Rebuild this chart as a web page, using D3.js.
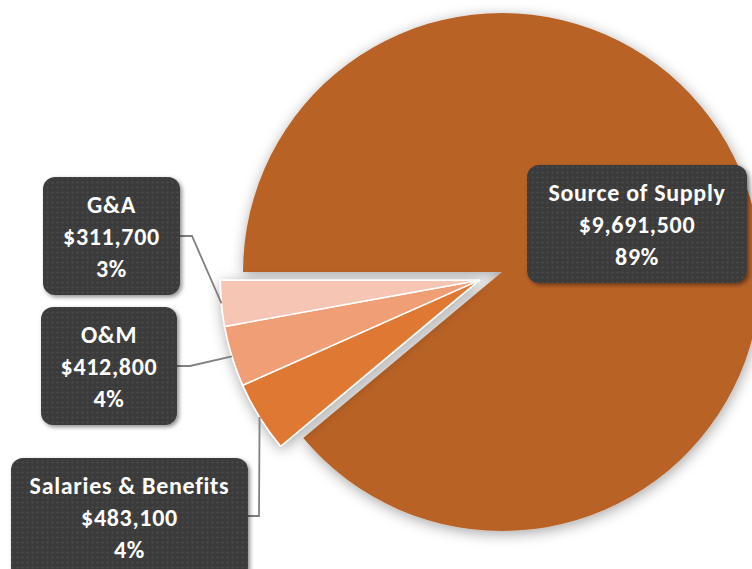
<!DOCTYPE html>
<html>
<head>
<meta charset="utf-8">
<script src="https://cdn.jsdelivr.net/npm/d3@7"></script>
<style>
  html, body { margin: 0; padding: 0; background: #fff; }
  svg { display: block; }
  .lbl text { font-family: Carlito, Lato, "Open Sans", sans-serif; font-weight: bold; fill: #fff; }
</style>
</head>
<body>
<svg id="chart" width="752" height="569"></svg>
<script>
// data
var categories = ["Source of Supply", "Salaries & Benefits", "O&M", "G&A"];
var values = [9691500, 483100, 412800, 311700];
var colors = ["#B96226", "#DF7830", "#F09E76", "#F6C5B4"];

var W = 752, H = 569;
var cx = 502, cy = 272, R = 259;
var explode = 24;

var total = d3.sum(values);
var fmtMoney = d3.format("$,.0f");
var fmtPct = d3.format(".0%");

var svg = d3.select("#chart");
var defs = svg.append("defs");

var pieShadow = defs.append("filter").attr("id", "pieShadow")
    .attr("x", "-20%").attr("y", "-20%").attr("width", "140%").attr("height", "140%");
pieShadow.append("feDropShadow")
    .attr("dx", 1).attr("dy", 3).attr("stdDeviation", 7)
    .attr("flood-color", "#000").attr("flood-opacity", 0.35);

var boxShadow = defs.append("filter").attr("id", "boxShadow")
    .attr("x", "-10%").attr("y", "-10%").attr("width", "125%").attr("height", "125%");
boxShadow.append("feDropShadow")
    .attr("dx", 2).attr("dy", 2).attr("stdDeviation", 2)
    .attr("flood-color", "#000").attr("flood-opacity", 0.45);

// dotted texture on the label boxes
var pat = defs.append("pattern").attr("id", "dots")
    .attr("width", 5).attr("height", 5).attr("patternUnits", "userSpaceOnUse");
pat.append("rect").attr("width", 5).attr("height", 5).attr("fill", "#3b3b3b");
pat.append("circle").attr("cx", 2.5).attr("cy", 2.5).attr("r", 1.1).attr("fill", "#4b4b4b");

// pie: G&A ends at 9 o'clock, Source of Supply starts there and runs clockwise
var pie = d3.pie().sort(null).value(function (d) { return d; })
    .startAngle(-Math.PI / 2).endAngle(3 * Math.PI / 2);
var arcs = pie(values);

var arc = d3.arc().innerRadius(0).outerRadius(R);

// small slices are pulled out together along their common bisector
var small = arcs.slice(1);
var groupMid = (small[0].startAngle + small[small.length - 1].endAngle) / 2;
var offX = Math.sin(groupMid) * explode, offY = -Math.cos(groupMid) * explode;

var g = svg.append("g").attr("transform", "translate(" + cx + "," + cy + ")");

g.append("g").attr("filter", "url(#pieShadow)")
  .append("path")
    .attr("d", arc(arcs[0]))
    .attr("fill", colors[0]);

var gs = g.append("g")
    .attr("transform", "translate(" + offX + "," + offY + ")")
    .attr("filter", "url(#pieShadow)");
gs.selectAll("path").data(small).enter().append("path")
    .attr("d", arc)
    .attr("fill", function (d) { return colors[d.index]; })
    .attr("stroke", "#fff")
    .attr("stroke-width", 1.5)
    .attr("stroke-linejoin", "round");

// label boxes (layout)
var boxes = [
    { x: 527, y: 165, w: 220, h: 118 },
    { x: 11, y: 458, w: 237, h: 122 },
    { x: 41, y: 307, w: 136, h: 118 },
    { x: 43, y: 177, w: 137, h: 118 }
];
var elbowX = [null, 259, 190, 192];

// leader lines from box to the outer arc of each exploded slice
var lines = svg.append("g");
small.forEach(function (d) {
    var i = d.index, b = boxes[i];
    var a = (d.startAngle + d.endAngle) / 2;
    var ex = cx + offX + Math.sin(a) * R;
    var ey = cy + offY - Math.cos(a) * R;
    var sy = b.y + b.h / 2 + (i === 1 ? -3 : 0);
    lines.append("polyline")
        .attr("points", [[b.x + b.w, sy], [elbowX[i], sy], [ex, ey]].map(function (p) { return p.join(","); }).join(" "))
        .attr("fill", "none")
        .attr("stroke", "#808080")
        .attr("stroke-width", 1.8);
});

var lbl = svg.append("g").attr("class", "lbl");
arcs.forEach(function (d) {
    var i = d.index, b = boxes[i];
    var gg = lbl.append("g");
    gg.append("rect")
        .attr("x", b.x).attr("y", b.y).attr("width", b.w).attr("height", b.h)
        .attr("rx", 12).attr("ry", 12)
        .attr("fill", "url(#dots)")
        .attr("filter", "url(#boxShadow)");
    var lines3 = [categories[i], fmtMoney(values[i]), fmtPct(values[i] / total)];
    var top = b.y + 36;
    lines3.forEach(function (t, k) {
        gg.append("text")
            .attr("x", b.x + b.w / 2)
            .attr("y", top + k * 32)
            .attr("text-anchor", "middle")
            .attr("font-size", 24)
            .attr("letter-spacing", 0.7)
            .text(t);
    });
});
</script>
</body>
</html>
